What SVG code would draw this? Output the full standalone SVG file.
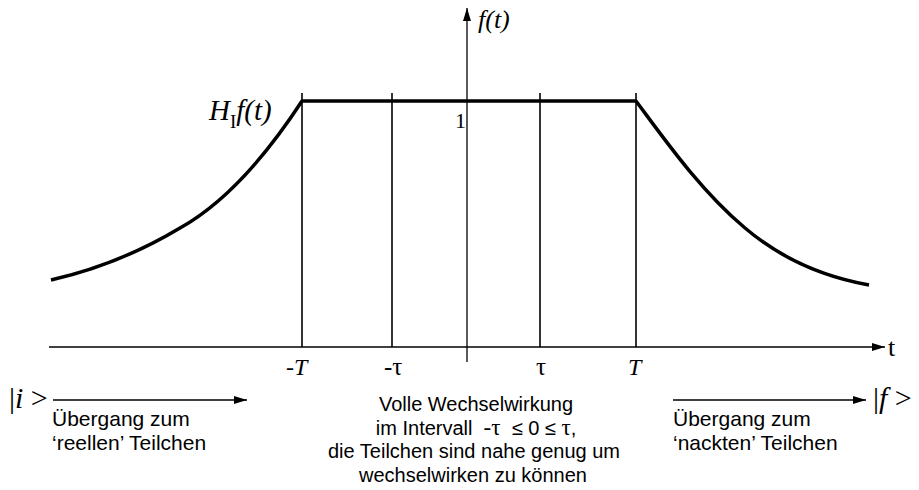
<svg xmlns="http://www.w3.org/2000/svg" width="919" height="490" viewBox="0 0 919 490">
<style>
.ax{stroke:#000;stroke-width:1.3;fill:none}
.vl{stroke:#000;stroke-width:1.6;fill:none}
.cv{stroke:#000;stroke-width:3.5;fill:none;stroke-linejoin:round}
.serif{font-family:"Liberation Serif","Times New Roman",serif;fill:#000}
.sans{font-family:"Liberation Sans",Arial,sans-serif;fill:#000}
.it{font-style:italic}
</style>
<defs>
<marker id="ah" viewBox="0 0 13 8" refX="13" refY="4" markerWidth="13" markerHeight="8" markerUnits="userSpaceOnUse" orient="auto">
<path d="M0,0 L13,4 L0,8 z" fill="#000"/>
</marker>
</defs>
<g id="connectors">
<line class="ax" x1="49" y1="347" x2="885" y2="347" marker-end="url(#ah)"/>
<line class="ax" x1="467" y1="362" x2="467" y2="8" marker-end="url(#ah)"/>
<line class="ax" x1="53" y1="400" x2="247" y2="400" marker-end="url(#ah)"/>
<line class="ax" x1="673" y1="400" x2="866" y2="400" marker-end="url(#ah)"/>
</g>
<g id="verticals">
<line class="vl" x1="302" y1="93" x2="302" y2="347"/>
<line class="vl" x1="392" y1="93" x2="392" y2="347"/>
<line class="vl" x1="540" y1="93" x2="540" y2="347"/>
<line class="vl" x1="636" y1="93" x2="636" y2="347"/>
</g>
<g id="curve">
<path class="cv" d="M51,280 C95,270 140,252 180,228 C230,200 270,150 302,101 L636,101 C665,140 700,190 745,228 C785,262 830,278 869,285"/>
</g>
<g id="labels">
<text class="serif it" x="478" y="28" font-size="26">f(t)</text>
<text class="serif" x="209" y="120" font-size="29"><tspan class="it">H</tspan><tspan font-size="19" dy="8">I</tspan><tspan class="it" dy="-8">f(t)</tspan></text>
<text class="serif" x="455" y="128" font-size="22">1</text>
<text class="serif" x="888" y="356" font-size="26">t</text>
<text class="serif it" x="286" y="375" font-size="24">-T</text>
<text class="serif" x="384" y="375" font-size="25">-τ</text>
<text class="serif" x="536" y="375" font-size="25">τ</text>
<text class="serif it" x="628" y="375" font-size="24">T</text>
</g>
<g id="state-i">
<text class="serif" x="9" y="408" font-size="30">|<tspan class="it">i</tspan> &gt;</text>
</g>
<g id="state-f">
<text class="serif" x="873" y="408" font-size="30">|<tspan class="it">f</tspan> &gt;</text>
</g>
<g id="left-text">
<text class="sans" x="52" y="426" font-size="21">Übergang zum</text>
<text class="sans" x="52" y="450" font-size="21">‘reellen’ Teilchen</text>
</g>
<g id="right-text">
<text class="sans" x="673" y="426" font-size="21">Übergang zum</text>
<text class="sans" x="673" y="450" font-size="21">‘nackten’ Teilchen</text>
</g>
<g id="middle-text" class="sans" font-size="20" text-anchor="middle">
<text x="476" y="411">Volle Wechselwirkung</text>
<text x="476" y="435" xml:space="preserve">im Intervall  <tspan class="serif" font-size="23">-τ</tspan>  ≤ 0 ≤ <tspan class="serif" font-size="23">τ</tspan>,</text>
<text x="474" y="458">die Teilchen sind nahe genug um</text>
<text x="473" y="482">wechselwirken zu können</text>
</g>
</svg>
